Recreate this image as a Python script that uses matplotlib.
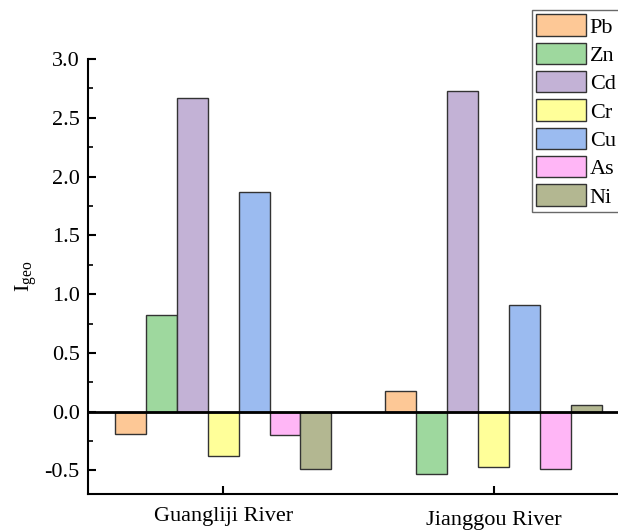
import matplotlib
matplotlib.use("Agg")
import matplotlib.pyplot as plt
import numpy as np
from matplotlib.patches import Patch
from matplotlib.transforms import ScaledTranslation

rivers = ["Guangliji River", "Jianggou River"]
metals = ["Pb", "Zn", "Cd", "Cr", "Cu", "As", "Ni"]
pb = [-0.19, 0.18]
zn = [0.82, -0.53]
cd = [2.67, 2.73]
cr = [-0.38, -0.47]
cu = [1.87, 0.91]
as_ = [-0.20, -0.485]
ni = [-0.485, 0.06]
series = [pb, zn, cd, cr, cu, as_, ni]
colors = ["#FDC896", "#9ED89E", "#C3B2D6", "#FFFF99", "#9BBBF0", "#FFB6F6", "#B3B791"]

plt.rcParams['font.family'] = ['Liberation Serif', 'DejaVu Serif']
fig = plt.figure(figsize=(6.18, 5.30), dpi=100)
ax = fig.add_axes([88/618, 1-494/530, 1-88/618, (494-59)/530])

x = np.arange(len(rivers))
w = 0.8/len(metals)
for i, (vals, c) in enumerate(zip(series, colors)):
    ax.bar(x - 0.4 + w*(i+0.5), vals, width=w, color=c, edgecolor="#333333", linewidth=1.0, zorder=2)

ax.axhline(0, color="black", linewidth=2.0, zorder=3)
ax.set_xlim(-0.5, 1.46)
ax.set_ylim(-0.7, 3.0)
ax.set_yticks([-0.5, 0.0, 0.5, 1.0, 1.5, 2.0, 2.5, 3.0])
ax.set_yticklabels(["-0.5", "0.0", "0.5", "1.0", "1.5", "2.0", "2.5", "3.0"])
ax.set_yticks(np.arange(-0.5, 3.01, 0.25), minor=True)
ax.set_xticks(x)
ax.set_xticklabels(rivers)
ax.spines['top'].set_visible(False)
ax.spines['right'].set_visible(False)
ax.spines['left'].set_linewidth(1.5)
ax.spines['bottom'].set_linewidth(1.5)
ax.tick_params(axis='both', which='major', direction='in', length=6, width=1.5, labelsize=16)
ax.tick_params(axis='y', which='major', pad=6)
ax.tick_params(axis='y', which='minor', direction='in', length=3.5, width=1.2)
ax.tick_params(axis='x', which='major', pad=9)
labs = ax.get_xticklabels()
labs[1].set_transform(labs[1].get_transform() + ScaledTranslation(0, -4/100, fig.dpi_scale_trans))
ax.set_ylabel(r"I$_{\mathregular{geo}}$", fontsize=16, labelpad=3)

handles = [Patch(facecolor=c, edgecolor="#333333", linewidth=1.0) for c in colors]
leg = fig.legend(handles, metals, loc="upper left", bbox_to_anchor=(532/618, 1-10/530),
                 frameon=True, fancybox=False, fontsize=16, handlelength=2.25, handleheight=1.1,
                 handletextpad=0.15, labelspacing=0.23, borderpad=0.2, borderaxespad=0)
leg.get_frame().set_edgecolor("#444444")
leg.get_frame().set_linewidth(1.0)

fig.savefig("out.png", dpi=100)
